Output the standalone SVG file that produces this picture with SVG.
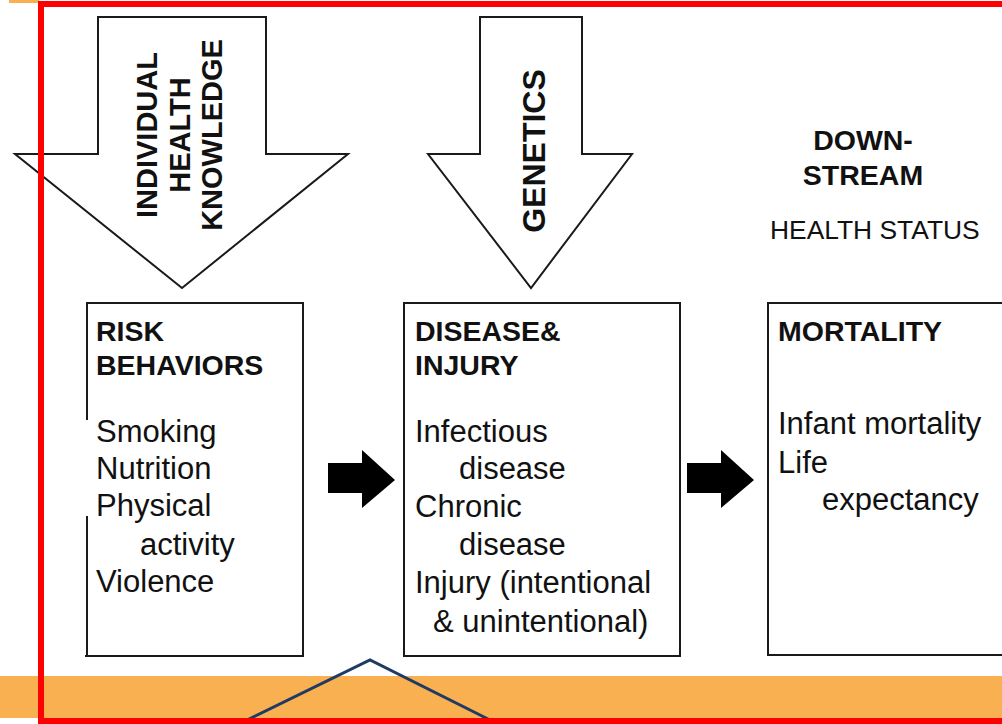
<svg xmlns="http://www.w3.org/2000/svg" width="1002" height="724" viewBox="0 0 1002 724">
<style>
.hollow{fill:#fff;stroke:#1a1a1a;stroke-width:2;stroke-linejoin:miter}
.box{fill:none;stroke:#1a1a1a;stroke-width:2}
.solid{fill:#000;stroke:none}
.b{font-family:"Liberation Sans",Arial,sans-serif;font-weight:bold;fill:#111}
.r{font-family:"Liberation Sans",Arial,sans-serif;fill:#111}
.hdr{font-size:28.5px}
.body{font-size:31px}
</style>
<rect x="0" y="0" width="1002" height="724" fill="#fff"/>
<g id="background">
<rect x="0" y="676" width="1002" height="42" fill="#F9B050"/>
<rect x="9" y="0" width="30" height="3" fill="#F9B050"/>
</g>
<g id="node-individual-health-knowledge">
<path class="hollow" d="M98,17 H266 V154 H348 L182,288 L15,154 H98 Z"/>
<g transform="translate(0,135) rotate(-90)" text-anchor="middle">
<text class="b" font-size="29" x="0" y="157">INDIVIDUAL</text>
<text class="b" font-size="29" x="0" y="190">HEALTH</text>
<text class="b" font-size="29" x="0" y="222">KNOWLEDGE</text>
</g>
</g>
<g id="node-genetics">
<path class="hollow" d="M480,17 H582 V154 H632 L531,288 L428,154 H480 Z"/>
<text class="b" font-size="32" text-anchor="middle" transform="translate(0,151) rotate(-90)" x="0" y="545">GENETICS</text>
</g>
<g id="node-downstream">
<text class="b" font-size="28.5" text-anchor="middle" x="863" y="150">DOWN-</text>
<text class="b" font-size="28.5" text-anchor="middle" x="863" y="185">STREAM</text>
<text class="r" font-size="26.4" x="770" y="239">HEALTH STATUS</text>
</g>
<g id="node-risk-behaviors">
<path class="box" d="M87,420 V303 H303 V656 H85 M87,656 V516"/>
<text class="b hdr" x="96" y="341">RISK</text>
<text class="b hdr" x="96" y="375">BEHAVIORS</text>
<text class="r body" x="96" y="442">Smoking</text>
<text class="r body" x="96" y="479">Nutrition</text>
<text class="r body" x="96" y="516">Physical</text>
<text class="r body" x="140" y="555">activity</text>
<text class="r body" x="96" y="592">Violence</text>
</g>
<g id="node-disease-injury">
<rect class="box" x="404" y="303" width="276" height="353"/>
<text class="b hdr" x="415" y="341">DISEASE&amp;</text>
<text class="b hdr" x="415" y="375">INJURY</text>
<text class="r body" x="415" y="442">Infectious</text>
<text class="r body" x="459" y="479">disease</text>
<text class="r body" x="415" y="517">Chronic</text>
<text class="r body" x="459" y="555">disease</text>
<text class="r body" x="415" y="593">Injury (intentional</text>
<text class="r body" x="433" y="632">&amp; unintentional)</text>
</g>
<g id="node-mortality">
<path class="box" d="M1004,303 H768 V655 H1004"/>
<text class="b hdr" x="778" y="341">MORTALITY</text>
<text class="r body" x="778" y="434">Infant mortality</text>
<text class="r body" x="778" y="473">Life</text>
<text class="r body" x="822" y="510">expectancy</text>
</g>
<g id="connectors">
<path class="solid" d="M328,463 H362 V450 L395,480 L362,508 V493 H328 Z"/>
<path class="solid" d="M687,463 H721 V450 L754,480 L721,508 V493 H687 Z"/>
</g>
<g id="overlay">
<polyline points="245,721 370,660 492,721" fill="none" stroke="#1F3A64" stroke-width="3"/>
<rect x="41" y="4" width="980" height="717" fill="none" stroke="#FF0000" stroke-width="6"/>
</g>
</svg>
